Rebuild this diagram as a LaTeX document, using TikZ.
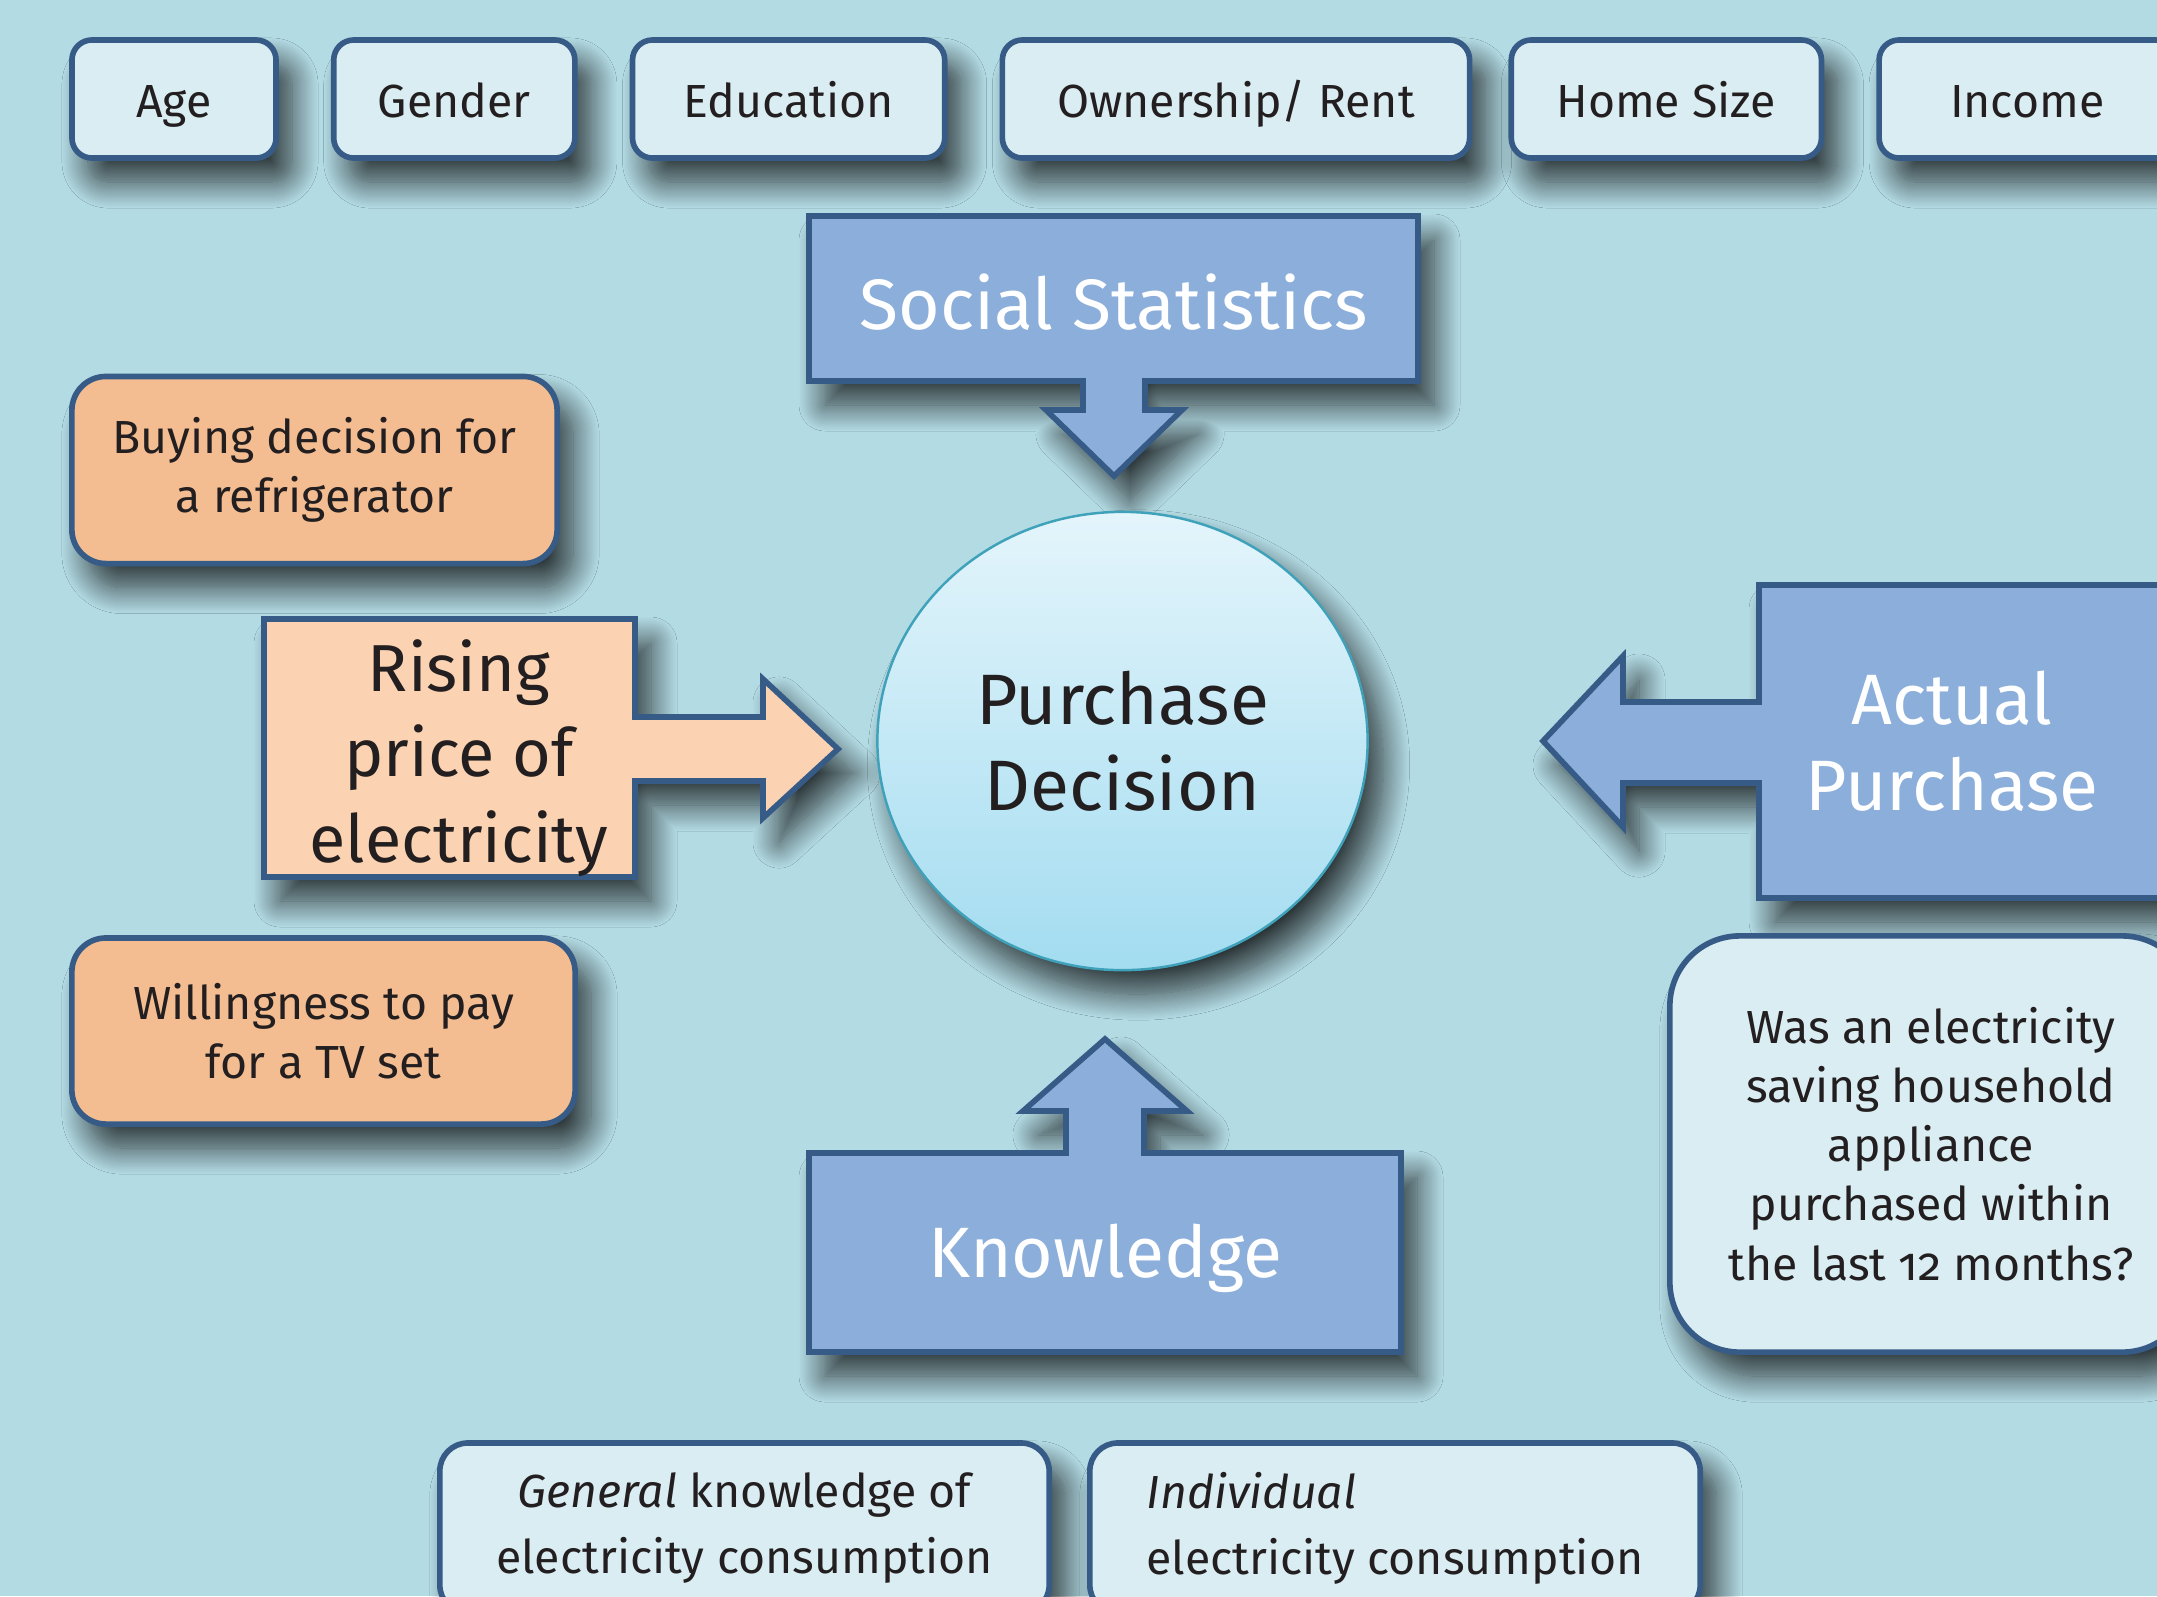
\documentclass[tikz,border=0pt]{standalone}
\usepackage{fontspec}
\IfFontExistsTF{Fira Sans Book}
  {\setmainfont{Fira Sans Book}[ItalicFont={Fira Sans Book Italic},Numbers=OldStyle]}
  {\setmainfont{Fira Sans}[Numbers=OldStyle]}
\usetikzlibrary{positioning,shapes.geometric,shadows.blur}
\definecolor{ink}{HTML}{231F20}
\definecolor{sky}{HTML}{B3DBE4}
\definecolor{frost}{HTML}{DAEDF2}
\definecolor{edge}{HTML}{375B87}
\definecolor{steel}{HTML}{8BAEDA}
\definecolor{apricot}{HTML}{F4BD91}
\definecolor{peach}{HTML}{FBD3B3}
\definecolor{orbtop}{HTML}{E4F5FB}
\definecolor{orbbottom}{HTML}{A3DCF0}
\definecolor{orbline}{HTML}{3FA2BA}
\newcommand{\mdtext}{\fontsize{13.2}{16.8}\selectfont}
\newcommand{\bigtext}{\fontsize{20.3}{24.5}\selectfont}
\newcommand{\risetext}{\fontsize{18.9}{24.3}\selectfont}
\tikzset{
  soft/.style={blur shadow={shadow xshift=1.6mm,shadow yshift=-2.4mm,shadow blur radius=2.6mm,shadow blur steps=24,shadow opacity=75}},
  facet/.style={draw=edge,line width=1.6pt,fill=frost,rounded corners=2mm,minimum height=1.18cm,
    text height=10.7pt,text depth=0pt,font=\mdtext,text=ink,soft},
  pickbox/.style={draw=edge,line width=1.6pt,fill=apricot,rounded corners=3.4mm,align=center,font=\mdtext,text=ink,soft},
  infobox/.style={draw=edge,line width=1.6pt,fill=frost,rounded corners=2.8mm,align=center,font=\mdtext,text=ink,soft},
  blockshape/.style={draw=edge,line width=1.6pt,fill=steel,soft},
  bigcaption/.style={font=\bigtext,align=center,text=white}
}

\begin{document}
\begin{tikzpicture}[x=0.01cm,y=-0.01cm,node distance=5.2mm]
  \useasboundingbox (0,0) rectangle (2157,1596);
  \fill[sky] (0,0) rectangle (2157,1596);

  % row of social statistics
  \node[facet,minimum width=2.04cm] (age) at (174,99) {Age};
  \node[facet,minimum width=2.41cm,right=of age] (gender) {Gender};
  \node[facet,minimum width=3.12cm,right=of gender] (edu) {Education};
  \node[facet,minimum width=4.67cm,right=of edu] (own) {Ownership/ Rent};
  \node[facet,minimum width=3.10cm,right=3.6mm of own] (home) {Home Size};
  \node[facet,minimum width=2.96cm,right=of home] (income) {Income};

  % block arrows pointing at the decision
  \draw[blockshape] (809,216) -- ++(609,0) -- ++(0,165) -- ++(-273,0) -- ++(0,29) -- ++(37,0)
    -- ++(-68,66) -- ++(-68,-66) -- ++(37,0) -- ++(0,-29) -- ++(-274,0) -- cycle;
  \node[bigcaption] (social) at (1114,302.5) {Social Statistics};

  \draw[blockshape,fill=peach] (264,619) -- ++(371,0) -- ++(0,98) -- ++(128,0) -- ++(0,-38)
    -- ++(75,70) -- ++(-75,69) -- ++(0,-37) -- ++(-128,0) -- ++(0,96) -- ++(-371,0) -- cycle;
  \node[bigcaption,font=\risetext,text=ink] (rising) at (459,758) {Rising\\price of\\electricity};

  \draw[blockshape] (1759,585) -- ++(0,117) -- ++(-136,0) -- ++(0,-46) -- ++(-80,85) -- ++(80,86)
    -- ++(0,-44) -- ++(136,0) -- ++(0,115) -- ++(420,0) -- ++(0,-313) -- cycle;
  \node[bigcaption] (actual) at (1952,741) {Actual\\Purchase};

  \draw[blockshape] (809,1352) -- ++(0,-199) -- ++(257,0) -- ++(0,-42) -- ++(-43,0) -- ++(82,-72)
    -- ++(82,72) -- ++(-43,0) -- ++(0,42) -- ++(257,0) -- ++(0,199) -- cycle;
  \node[bigcaption] (know) at (1105,1258) {Knowledge};

  \node[pickbox,minimum width=4.85cm,minimum height=1.87cm] (fridge) at (314.5,470) {Buying decision for\\a refrigerator};
  \node[pickbox,minimum width=5.03cm,minimum height=1.86cm] (tv) at (323.5,1031) {Willingness to pay\\for a TV set};

  \node[ellipse,draw=orbline,line width=0.7pt,top color=orbtop,bottom color=orbbottom,
        minimum width=4.9cm,minimum height=4.58cm,inner sep=0pt,font=\bigtext,text=ink,align=center,soft] (decision) at (1122.5,741) {Purchase\\Decision};

  \node[infobox,rounded corners=7mm,minimum width=5.22cm,minimum height=4.16cm] (asked) at (1931,1144)
    {Was an electricity\\saving household\\appliance\\purchased within\\the last 12 months?};

  \node[infobox,minimum width=6.09cm,minimum height=1.70cm] (general) at (744.5,1528)
    {\textit{General} knowledge of\\[2pt]electricity consumption};
  \node[infobox,align=left,minimum width=6.1cm,minimum height=1.70cm] (individual) at (1395,1528)
    {\textit{Individual}\\[2pt]electricity consumption};
\end{tikzpicture}
\end{document}
